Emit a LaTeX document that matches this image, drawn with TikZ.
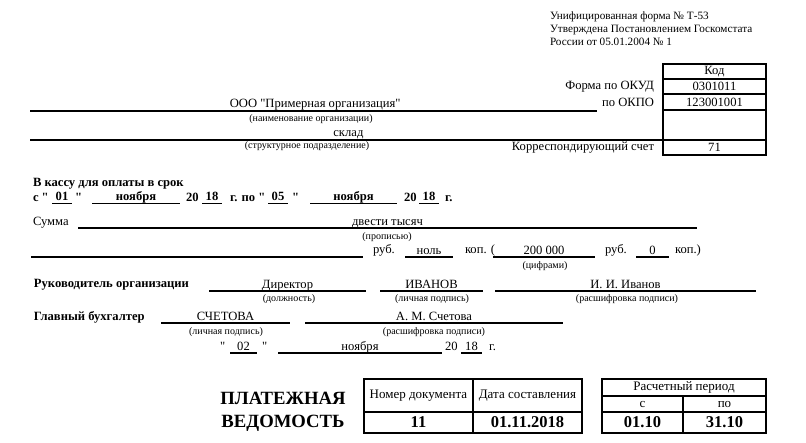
\documentclass[tikz,border=0pt]{standalone}
\usepackage{fontspec}
\setmainfont{Liberation Serif}
\usetikzlibrary{positioning}
\newcommand{\normsize}{\fontsize{12.6}{14}\selectfont}
\newcommand{\smallsize}{\fontsize{10}{11}\selectfont}
\newcommand{\headsize}{\fontsize{11.2}{13}\selectfont}
\newcommand{\cellsize}{\fontsize{13}{15}\selectfont}
\newcommand{\bigsize}{\fontsize{18.7}{21}\selectfont}
\newcommand{\q}{\textquotedbl}
\newcommand{\widthcode}{103pt}
\tikzset{
    common/.style={inner sep=0pt, outer sep=0pt},
    txt/.style={common, anchor=base, font=\normsize},
    txtl/.style={txt, anchor=base west},
    bold/.style={txtl, font=\normsize\bfseries},
    capt/.style={common, font=\smallsize},
    uline/.style={line width=1.3pt},
    heavyline/.style={line width=2pt},
    tcell/.style={common, draw, line width=1.4pt, font=\cellsize},
    cell/.style={tcell, font=\normsize, minimum width=\widthcode, minimum height=15pt},
    vcell/.style={tcell, font=\fontsize{16.5}{18}\selectfont\bfseries}
}
\newcommand{\fld}[5]{\draw[uline] (#2,#4) -- (#3,#4) node[midway, txt, yshift=3pt] (#1) {#5};}
\newcommand{\capt}[4]{\node[capt] (#1) at (#2,#4) {#3};}

\begin{document}
\begin{tikzpicture}[x=1pt, y=-1pt]
    \useasboundingbox (0,0) rectangle (806,442);

    \node[txtl, font=\headsize] (form) at (550,19) {Унифицированная форма № Т-53};
    \node[txtl, font=\headsize] (approved) at (550,32) {Утверждена Постановлением Госкомстата};
    \node[txtl, font=\headsize] (russia) at (550,45) {России от 05.01.2004 № 1};

    \node[cell] (kod) at (714.5,71.5) {Код};
    \node[cell, below=0pt of kod] (okud) {0301011};
    \node[cell, below=0pt of okud, minimum height=16pt] (okpo) {123001001};
    \node[cell, below=0pt of okpo, minimum height=30pt] (blank) {};
    \node[cell, below=0pt of blank] (schet) {71};
    \node[common, font=\normsize, left=9pt of okud] (lokud) {Форма по ОКУД};
    \node[common, font=\normsize, left=9pt of okpo] (lokpo) {по ОКПО};
    \node[common, font=\normsize, left=9pt of schet] (lschet) {Корреспондирующий счет};

    \draw[heavyline] (30,111) -- (597,111) node[pos=.503, txt, yshift=4pt] (org) {ООО \q Примерная организация\q};
    \capt{orgcap}{311}{(наименование организации)}{119}
    \draw[heavyline] (30,140) -- (blank.south west) node[pos=.503, txt, yshift=4pt] (dept) {склад};
    \capt{deptcap}{307}{(структурное подразделение)}{146}

    \node[bold] (kassa) at (33,186) {В кассу для оплаты в срок};
    \node[bold] (s) at (33,201) {с \q};
    \fld{d1}{52}{72}{203.5}{\textbf{01}}
    \node[bold] (q1) at (75,201) {\q};
    \fld{m1}{92}{180}{203.5}{\textbf{ноября}}
    \node[bold] (y1) at (186,201) {20};
    \fld{yy1}{202}{222}{203.5}{\textbf{18}}
    \node[bold] (po) at (230,201) {г. по \q};
    \fld{d2}{268}{288}{203.5}{\textbf{05}}
    \node[bold] (q2) at (292,201) {\q};
    \fld{m2}{310}{397}{203.5}{\textbf{ноября}}
    \node[bold] (y2) at (404,201) {20};
    \fld{yy2}{419}{439}{203.5}{\textbf{18}}
    \node[bold] (g1) at (445,201) {г.};

    \node[txtl] (summa) at (33,225) {Сумма};
    \fld{words}{78}{697}{228}{двести тысяч}
    \capt{wordscap}{387}{(прописью)}{237}
    \draw[uline] (31,257) -- (363,257) coordinate (rest);
    \node[txtl] (rub1) at (373,253) {руб.};
    \fld{kop1}{405}{453}{257}{ноль}
    \node[txtl] (lkop1) at (465,253) {коп. (};
    \fld{digits}{493}{595}{257}{200 000}
    \capt{digitscap}{545}{(цифрами)}{266}
    \node[txtl] (rub2) at (605,253) {руб.};
    \fld{kop2}{636}{669}{257}{0}
    \node[txtl] (lkop2) at (675,253) {коп.)};

    \node[bold] (head) at (34,287) {Руководитель организации};
    \fld{post}{209}{366}{291}{Директор}
    \capt{postcap}{289}{(должность)}{299}
    \fld{sign1}{380}{483}{291}{ИВАНОВ}
    \capt{sign1cap}{432}{(личная подпись)}{299}
    \fld{name1}{495}{756}{291}{И. И. Иванов}
    \capt{name1cap}{627}{(расшифровка подписи)}{299}

    \node[bold] (acc) at (34,320) {Главный бухгалтер};
    \fld{sign2}{161}{290}{323}{СЧЕТОВА}
    \capt{sign2cap}{226}{(личная подпись)}{332}
    \fld{name2}{305}{563}{323}{А. М. Счетова}
    \capt{name2cap}{434}{(расшифровка подписи)}{332}

    \node[txtl] (q3) at (220,350) {\q};
    \fld{d3}{230}{257}{353}{02}
    \node[txtl] (q4) at (262,350) {\q};
    \fld{m3}{278}{442}{353}{ноября}
    \node[txtl] (y3) at (445,350) {20};
    \fld{yy3}{461}{482}{353}{18}
    \node[txtl] (g3) at (489,350) {г.};

    \node[common, font=\bigsize\bfseries] (title1) at (283,398) {ПЛАТЕЖНАЯ};
    \node[common, font=\bigsize\bfseries] (title2) at (283,423) {ВЕДОМОСТЬ};

    \node[tcell, minimum width=109pt, minimum height=33pt] (nomer) at (418.5,395.5) {Номер документа};
    \node[tcell, minimum width=109pt, minimum height=33pt, right=0pt of nomer] (data) {Дата составления};
    \node[vcell, minimum width=109pt, minimum height=21pt, below=0pt of nomer] (num) {11};
    \node[vcell, minimum width=109pt, minimum height=21pt, below=0pt of data] (date) {01.11.2018};

    \node[tcell, minimum width=164pt, minimum height=17pt] (period) at (684,387.5) {Расчетный период};
    \node[tcell, minimum width=81pt, minimum height=16pt, below right=0pt and 0pt of period.south west] (ps) {с};
    \node[tcell, minimum width=83pt, minimum height=16pt, below left=0pt and 0pt of period.south east] (pto) {по};
    \node[vcell, minimum width=81pt, minimum height=21pt, below=0pt of ps] (from) {01.10};
    \node[vcell, minimum width=83pt, minimum height=21pt, below=0pt of pto] (to) {31.10};
\end{tikzpicture}
\end{document}
